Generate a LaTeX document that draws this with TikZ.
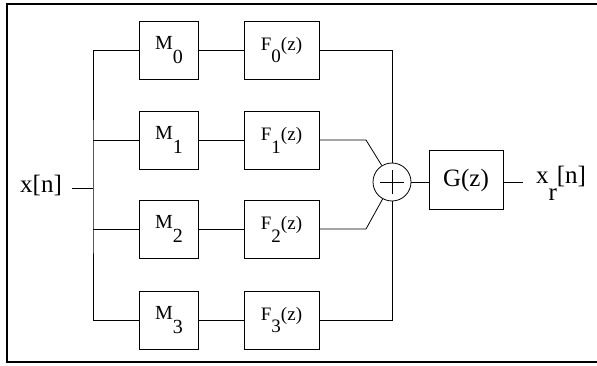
\documentclass[tikz,border=0pt]{standalone}
\usepackage{fontspec}
\setmainfont{Liberation Serif}
\newcommand{\lowsub}[1]{\raisebox{-0.68em}{#1}}

\begin{document}
\begin{tikzpicture}[x=1pt,y=-1pt,line width=0.8pt,
  mbox/.style={draw,minimum width=59pt,minimum height=58pt,inner sep=0pt,font=\fontsize{20}{20}\selectfont},
  fbox/.style={draw,minimum width=75pt,minimum height=58pt,inner sep=0pt,font=\fontsize{19}{19}\selectfont},
  sig/.style={inner sep=0pt,font=\fontsize{25}{25}\selectfont}]
\useasboundingbox (0,0) rectangle (597,366);
\draw[line width=1.6pt] (600,4) -- (7,4) -- (7,362) -- (600,362);
\coordinate (bus) at (93,188);
\foreach \i/\y in {0/50,1/140,2/229,3/320} {
  \node[mbox] (m\i) at (169,\y) {M\lowsub{\i}};
  \node[fbox] (f\i) at (281.5,\y) {F\lowsub{\i}(z)};
  \draw (m\i) -- (f\i);
}
\draw (m0) -| (bus) |- (m3);
\draw (m1) -- (m1 -| bus);
\draw (m2) -- (m2 -| bus);
\node[sig] (x) at (41,186) {x[n]};
\draw ([xshift=10pt]x.east |- bus) -- (bus);
\node[draw,circle,minimum size=38pt,inner sep=0pt] (sum) at (392,182) {};
\draw ([xshift=-12pt]sum.center) -- ([xshift=12pt]sum.center);
\draw ([yshift=-12pt]sum.center) -- ([yshift=12pt]sum.center);
\draw (f0) -| (sum);
\draw (f3) -| (sum);
\coordinate (k1) at (366,140);
\coordinate (k2) at (366,229);
\draw (f1) -- (k1) -- (sum);
\draw (f2) -- (k2) -- (sum);
\node[draw,minimum width=74pt,minimum height=59pt,font=\fontsize{25}{25}\selectfont] (g) at (466,180) {G(z)};
\draw (sum.east) -- (sum.east -| g.west);
\coordinate (out) at (523,182);
\draw (g.east |- out) -- (out);
\node[sig] (xr) at (561,183) {x\lowsub{r}[n]};
\end{tikzpicture}
\end{document}
